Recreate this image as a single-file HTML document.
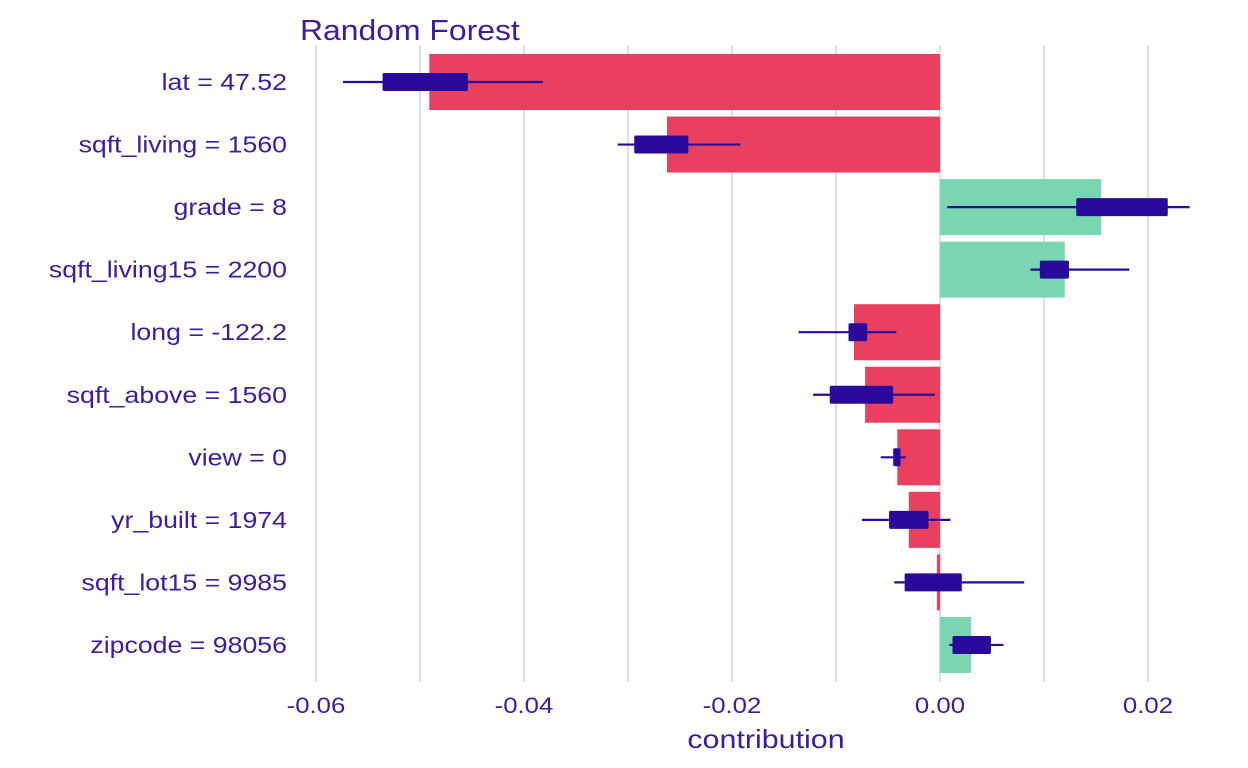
<!DOCTYPE html>
<html><head><meta charset="utf-8"><style>
html,body{margin:0;padding:0;background:#fff;}
svg{display:block;font-family:"Liberation Sans",Arial,sans-serif;}
</style></head><body>
<svg id="chart" width="1248" height="768">
<g id="grid"></g><g id="bars"></g><g id="boxes"></g><g id="labels"></g>
<text id="title" x="300" y="40" font-size="29" fill="#371ea3">Random Forest</text>
<text id="xtitle" x="766" y="748" font-size="26" fill="#371ea3" text-anchor="middle">contribution</text>
</svg>
<script>
const categories=["lat = 47.52","sqft_living = 1560","grade = 8","sqft_living15 = 2200","long = -122.2","sqft_above = 1560","view = 0","yr_built = 1974","sqft_lot15 = 9985","zipcode = 98056"];
const contributions=[-0.0491,-0.02625,0.0155,0.012,-0.00827,-0.0072,-0.0041,-0.003,-0.0003,0.003];
const whiskerLow=[-0.0574,-0.031,0.0007,0.0087,-0.0136,-0.0122,-0.0057,-0.0075,-0.0044,0.0009];
const whiskerHigh=[-0.0382,-0.0192,0.024,0.0182,-0.0042,-0.0005,-0.0033,0.001,0.0081,0.0061];
const q1=[-0.0536,-0.0294,0.0131,0.0096,-0.0088,-0.0106,-0.0045,-0.0049,-0.0034,0.0012];
const q3=[-0.0454,-0.0242,0.0219,0.0124,-0.007,-0.0045,-0.0038,-0.0011,0.0021,0.0049];
const ticks=[-0.06,-0.04,-0.02,0.00,0.02];
const tickLabels=["-0.06","-0.04","-0.02","0.00","0.02"];
const gridVals=[-0.06,-0.05,-0.04,-0.03,-0.02,-0.01,0,0.01,0.02];
const NS="http://www.w3.org/2000/svg";
const x=v=>940+v*10400;
const y=i=>82+i*62.55;
function mk(t,a,p){const e=document.createElementNS(NS,t);for(const k in a)e.setAttribute(k,a[k]);document.getElementById(p).appendChild(e);return e;}
function stretch(e,f){const w=e.getComputedTextLength();e.setAttribute('textLength',(w*f).toFixed(1));e.setAttribute('lengthAdjust','spacingAndGlyphs');}
gridVals.forEach(v=>{
 const l=mk('line',{x1:x(v),x2:x(v),y1:45,y2:682,stroke:'#e0e0e0','stroke-width':2},'grid');
 
 
});
ticks.forEach((v,i)=>{
 const t=mk('text',{x:x(v),y:713,'font-size':22,fill:'#371ea3','text-anchor':'middle'},'labels');
 t.textContent=tickLabels[i];
 
 
 stretch(t,1.17);
});
categories.forEach((c,i)=>{
 const cy=y(i),v=contributions[i];
 const r=mk('rect',{x:Math.min(x(0),x(v)),y:cy-28,width:Math.abs(x(v)-x(0)),height:56,fill:v<0?'#e8405e':'#7ad6b0'},'bars');
 
 
 const w=mk('line',{x1:x(whiskerLow[i]),x2:x(whiskerHigh[i]),y1:cy,y2:cy,stroke:'#2a0a9b','stroke-width':2.2},'boxes');
 
 
 const b=mk('rect',{x:x(q1[i]),y:cy-9,width:x(q3[i])-x(q1[i]),height:18,fill:'#2a0a9b',rx:1.5},'boxes');
 
 
 const t=mk('text',{x:287,y:cy+8,'font-size':23,fill:'#371ea3','text-anchor':'end'},'labels');
 t.textContent=c;
 
 
 stretch(t,1.16);
});
stretch(document.getElementById('title'),1.1);
stretch(document.getElementById('xtitle'),1.17);
</script>
</body></html>
